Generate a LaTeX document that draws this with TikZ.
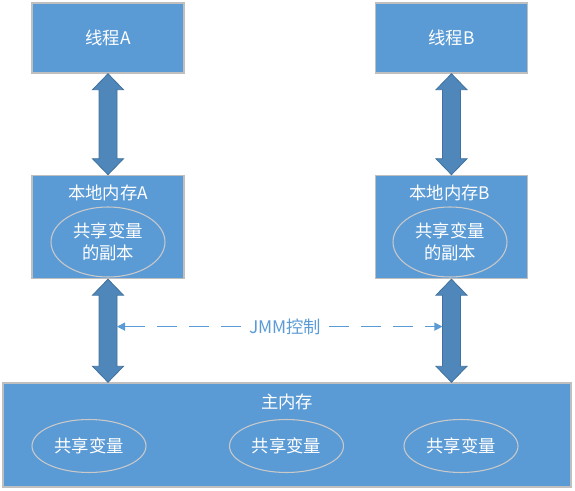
\documentclass[tikz,border=0pt]{standalone}
\usepackage{fontspec}
\setmainfont{Noto Sans CJK SC}
\usetikzlibrary{positioning, calc, shapes.geometric, arrows.meta}
\definecolor{boxblue}{HTML}{5B9BD5}
\definecolor{boxedge}{HTML}{BFBFBF}
\definecolor{arrowblue}{HTML}{4F87BB}
\definecolor{arrowedge}{HTML}{41719C}
\definecolor{ovaledge}{HTML}{C9C9C9}
% block arrow from a top tip (#1) down to a bottom tip (#2)
\newcommand{\dblarrow}[2]{%
	\draw[bigarrow] (#1) -- ++(15.5,16) -- ++(-6.5,0) -- ($(#2)+(9,-16)$) -- ++(6.5,0) -- (#2)
		-- ++(-15.5,-16) -- ++(6.5,0) -- ($(#1)+(-9,16)$) -- ++(-6.5,0) -- cycle;}

\begin{document}
\begin{tikzpicture}[x=0.75pt, y=-0.75pt,
	every node/.style={font=\fontsize{13}{17}\selectfont, text=white},
	membox/.style={draw=boxedge, line width=1.1pt, fill=boxblue, inner sep=0pt, minimum width=114pt},
	oval/.style={ellipse, draw=ovaledge, line width=.8pt, inner sep=0pt, align=center, minimum width=85.5pt},
	bigarrow/.style={fill=arrowblue, draw=arrowedge, line width=.6pt, line join=miter},
	jmm/.style={boxblue, line width=.9pt, dash pattern=on 15pt off 9pt, arrows={-Triangle[length=6pt, width=6pt]}}]
	\useasboundingbox (0,0) rectangle (575,491);
%	threads and their local memory
	\node[membox, minimum height=52.5pt] (threadA) at (108,38) {线程A};
	\node[membox, minimum height=52.5pt, right=142.5pt of threadA] (threadB) {线程B};
	\node[membox, minimum height=77.25pt, below=75.75pt of threadA] (localA) {};
	\node[membox, minimum height=77.25pt, below=75.75pt of threadB] (localB) {};
	\node (titleA) at (108,193) {本地内存A};
	\node (titleB) at (450,193) {本地内存B};
	\node[oval, minimum height=52.5pt] (copyA) at (108,242) {共享变量\\的副本};
	\node[oval, minimum height=52.5pt] (copyB) at (450,242) {共享变量\\的副本};
%	main memory
	\node[membox, minimum width=426pt, minimum height=78pt] (main) at (287,435) {};
	\node (titleM) at (287,402) {主内存};
	\node[oval, minimum height=39.75pt] (varA) at (89,446) {共享变量};
	\node[oval, minimum height=39.75pt] (varB) at (286.5,446) {共享变量};
	\node[oval, minimum height=39.75pt] (varC) at (461,446) {共享变量};
%	arrows
	\coordinate (footA) at (main.north -| localA.south);
	\coordinate (footB) at (main.north -| localB.south);
	\dblarrow{threadA.south}{localA.north}
	\dblarrow{threadB.south}{localB.north}
	\dblarrow{localA.south}{footA}
	\dblarrow{localB.south}{footB}
	\coordinate (jmmL) at ($(localA.south)!.46!(footA)+(9,0)$);
	\coordinate (jmmR) at ($(localB.south)!.46!(footB)+(-9,0)$);
	\node[text=boxblue, inner xsep=6pt, xshift=4pt] (jmm) at ($(jmmL)!.5!(jmmR)$) {JMM控制};
	\draw[jmm] (jmm.west |- jmmL) -- (jmmL);
	\draw[jmm] (jmm.east |- jmmR) -- (jmmR);
\end{tikzpicture}
\end{document}
